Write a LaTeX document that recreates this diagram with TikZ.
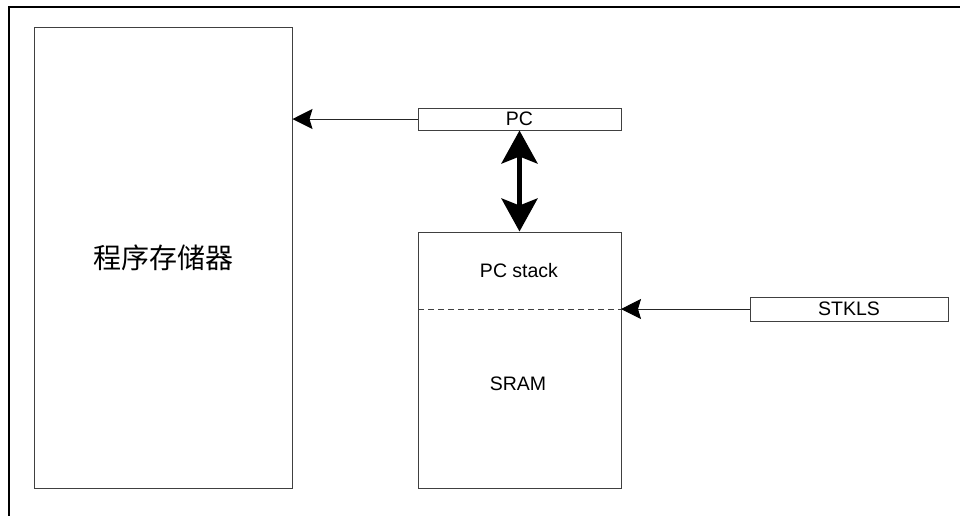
\documentclass[tikz,border=0pt]{standalone}
\usepackage{fontspec}
\setmainfont{Liberation Sans}
\newfontfamily\cjk{Noto Sans CJK SC}
\usetikzlibrary{arrows.meta}
\tikzset{
 blk/.style={draw=black!75,line width=1pt,inner sep=0pt,font=\fontsize{19.5}{22}\selectfont},
 arr/.style={draw=black!85,line width=1pt,-{Stealth[length=20pt,width=20pt,inset=3pt,black]}},
 bus/.style={line width=5pt,{Stealth[length=33pt,width=36pt,inset=7pt]}-{Stealth[length=33pt,width=36pt,inset=7pt]}}
}
\begin{document}
\begin{tikzpicture}[x=1pt,y=-1pt]
 \useasboundingbox (0,0) rectangle (960,515);
 % outer frame
 \draw[line width=2pt] (9,530) -- (9,7) -- (975,7);
 % program memory
 \node[blk,minimum width=258,minimum height=461,font=\cjk\fontsize{28}{32}\selectfont] (mem) at (163,257.5) {程序存储器};
 % PC register
 \node[blk,minimum width=203,minimum height=22] (pc) at (519.5,119) {PC};
 % stack / SRAM block
 \node[blk,minimum width=203,minimum height=256] (stk) at (519.5,360) {};
 \coordinate (sepL) at (418,309);
 \coordinate (sepR) at (621,309);
 \draw[draw=black!75,line width=1pt,dash pattern=on 6pt off 4pt] (sepL) -- (sepR);
 \node[font=\fontsize{19.5}{22}\selectfont] (pcs) at (519,271) {PC stack};
 \node[font=\fontsize{19.5}{22}\selectfont] (sram) at (518,384) {SRAM};
 % STKLS register
 \node[blk,minimum width=198,minimum height=24] (stkls) at (849,309) {STKLS};
 % connectors
 \draw[arr] (pc.west) -- (mem.east |- pc.west);
 \draw[arr] (stkls.west) -- (sepR);
 \draw[bus] (pc.south) -- (stk.north);
\end{tikzpicture}
\end{document}
